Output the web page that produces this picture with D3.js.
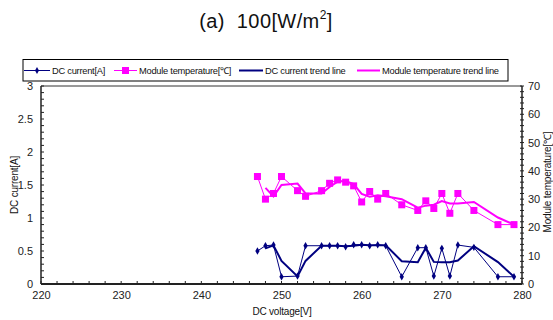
<!DOCTYPE html>
<html>
<head>
<meta charset="utf-8">
<script src="https://cdn.jsdelivr.net/npm/d3@7"></script>
<style>
  body { margin: 0; background: #fff; }
  svg { display: block; font-family: 'Liberation Sans', Arial, sans-serif; }
</style>
</head>
<body>
<div class="chart"></div>
<script>
const voltage = [247, 248, 249, 250, 252, 253, 255, 256, 257, 258, 259, 260, 261, 262, 263, 265, 267, 268, 269, 270, 271, 272, 274, 277, 279]
const current = [0.50, 0.58, 0.59, 0.11, 0.12, 0.58, 0.58, 0.58, 0.58, 0.565, 0.595, 0.595, 0.58, 0.595, 0.58, 0.11, 0.55, 0.55, 0.12, 0.54, 0.12, 0.59, 0.555, 0.11, 0.11]
const temperature = [38, 30, 32, 38, 33, 31, 33, 35.6, 36.8, 36, 34.7, 29, 32.7, 30, 32, 28, 26, 29.4, 26.7, 32, 25, 32, 26, 21, 21]
const xTicks = [220, 230, 240, 250, 260, 270, 280]
const leftTicks = [0, 0.5, 1, 1.5, 2, 2.5, 3]
const rightTicks = [0, 10, 20, 30, 40, 50, 60, 70]
const legendLabels = ['DC current[A]', 'Module temperature[℃]', 'DC current trend line', 'Module temperature trend line']

const NAVY = '#000080'
const MAGENTA = '#ff00ff'
const width = 553
const height = 320
const plot = { left: 41, right: 522, top: 86, bottom: 284 }

const svg = d3.select('.chart').append('svg')
  .attr('width', width)
  .attr('height', height)

const x = d3.scaleLinear().domain([220, 280]).range([plot.left, plot.right])
const yL = d3.scaleLinear().domain([0, 3]).range([plot.bottom, plot.top])
const yR = d3.scaleLinear().domain([0, 70]).range([plot.bottom, plot.top])

// title
const title = svg.append('text')
  .attr('x', 266)
  .attr('y', 28)
  .attr('text-anchor', 'middle')
  .attr('font-size', 20)
  .attr('letter-spacing', 0.4)
  .attr('fill', '#111')
  .style('white-space', 'pre')
title.append('tspan').text('(a)  100[W/m')
title.append('tspan').attr('font-size', 12).attr('dy', -9).text('2')
title.append('tspan').attr('dy', 9).text(']')

// legend box
const legend = svg.append('g')
legend.append('rect')
  .attr('x', 23).attr('y', 59.5).attr('width', 485).attr('height', 21.5)
  .attr('fill', '#fff').attr('stroke', '#000').attr('stroke-width', 1)

const legendItems = [
  { x: 24, len: 26, color: NAVY, w: 1, marker: 'diamond' },
  { x: 114, len: 23, color: MAGENTA, w: 1, marker: 'square' },
  { x: 239, len: 24, color: NAVY, w: 2, marker: null },
  { x: 357, len: 23, color: MAGENTA, w: 2, marker: null },
]
legendItems.forEach((d, i) => {
  const ly = 70.5
  legend.append('line')
    .attr('x1', d.x).attr('x2', d.x + d.len).attr('y1', ly).attr('y2', ly)
    .attr('stroke', d.color).attr('stroke-width', d.w)
  if (d.marker === 'diamond') {
    legend.append('path')
      .attr('transform', `translate(${d.x + d.len / 2},${ly})`)
      .attr('d', d3.symbol(d3.symbolDiamond, 14)()).attr('fill', d.color)
  } else if (d.marker === 'square') {
    legend.append('rect')
      .attr('x', d.x + d.len / 2 - 3.5).attr('y', ly - 3.5).attr('width', 7).attr('height', 7)
      .attr('fill', d.color)
  }
  legend.append('text')
    .attr('x', d.x + d.len + 2).attr('y', ly + 3.3)
    .attr('font-size', 9.3).attr('letter-spacing', -0.25).attr('fill', '#111')
    .text(legendLabels[i])
})

// frame
svg.append('line')
  .attr('x1', plot.left).attr('x2', plot.right).attr('y1', plot.top).attr('y2', plot.top)
  .attr('stroke', '#333').attr('stroke-width', 1)

// minor ticks
const minor = svg.append('g').attr('stroke', '#222').attr('stroke-width', 1)
d3.range(0, 3.0001, 0.1).forEach(v => {
  minor.append('line').attr('x1', plot.left).attr('x2', plot.left + 3)
    .attr('y1', yL(v)).attr('y2', yL(v))
})
d3.range(0, 70.001, 2).forEach(v => {
  minor.append('line').attr('x1', plot.right - 2).attr('x2', plot.right + 2)
    .attr('y1', yR(v)).attr('y2', yR(v))
})
d3.range(220, 280.001, 2).forEach(v => {
  minor.append('line').attr('x1', x(v)).attr('x2', x(v))
    .attr('y1', plot.bottom).attr('y2', plot.bottom - 3)
})

// axis lines
svg.append('line')
  .attr('x1', plot.left).attr('x2', plot.left).attr('y1', plot.top).attr('y2', plot.bottom)
  .attr('stroke', '#222').attr('stroke-width', 1.5)
svg.append('line')
  .attr('x1', plot.right).attr('x2', plot.right).attr('y1', plot.top).attr('y2', plot.bottom)
  .attr('stroke', '#222').attr('stroke-width', 1.5)
svg.append('line')
  .attr('x1', plot.left).attr('x2', plot.right).attr('y1', plot.bottom).attr('y2', plot.bottom)
  .attr('stroke', '#222').attr('stroke-width', 2)

// tick labels
const xAxis = svg.append('g')
  .attr('transform', `translate(0,${plot.bottom})`)
  .call(d3.axisBottom(x).tickValues(xTicks).tickSize(0).tickPadding(7))
const lAxis = svg.append('g')
  .attr('transform', `translate(${plot.left},0)`)
  .call(d3.axisLeft(yL).tickValues(leftTicks).tickSize(0).tickPadding(8).tickFormat(d => d))
const rAxis = svg.append('g')
  .attr('transform', `translate(${plot.right},0)`)
  .call(d3.axisRight(yR).tickValues(rightTicks).tickSize(0).tickPadding(6))
;[xAxis, lAxis, rAxis].forEach(a => {
  a.select('.domain').remove()
  a.selectAll('text').attr('font-size', 11).attr('fill', '#222')
    .attr('font-family', "'Liberation Sans', Arial, sans-serif")
})

// axis titles
svg.append('text')
  .attr('x', 282).attr('y', 315)
  .attr('text-anchor', 'middle').attr('font-size', 10).attr('fill', '#111')
  .attr('letter-spacing', -0.2)
  .text('DC voltage[V]')
svg.append('text')
  .attr('transform', 'translate(18,185) rotate(-90)')
  .attr('text-anchor', 'middle').attr('font-size', 10).attr('fill', '#111')
  .attr('letter-spacing', -0.2)
  .text('DC current[A]')
svg.append('text')
  .attr('transform', 'translate(551,182) rotate(-90)')
  .attr('text-anchor', 'middle').attr('font-size', 10).attr('fill', '#111')
  .attr('letter-spacing', -0.2)
  .text('Module temperature[℃]')

// data
const currentData = voltage.map((v, i) => ({ v, y: current[i] }))
const tempData = voltage.map((v, i) => ({ v, y: temperature[i] }))
// 2-period moving average trend lines
const movingAvg = arr => d3.pairs(arr).map(([a, b]) => ({ v: b.v, y: (a.y + b.y) / 2 }))

const lineL = d3.line().x(d => x(d.v)).y(d => yL(d.y))
const lineR = d3.line().x(d => x(d.v)).y(d => yR(d.y))

svg.append('path').datum(tempData)
  .attr('d', lineR).attr('fill', 'none').attr('stroke', MAGENTA).attr('stroke-width', 1)
svg.append('path').datum(movingAvg(tempData))
  .attr('d', lineR).attr('fill', 'none').attr('stroke', MAGENTA).attr('stroke-width', 2)
svg.selectAll('.temp-marker').data(tempData).enter().append('rect')
  .attr('class', 'temp-marker')
  .attr('x', d => x(d.v) - 3.5).attr('y', d => yR(d.y) - 3.5)
  .attr('width', 7).attr('height', 7).attr('fill', MAGENTA)

svg.append('path').datum(currentData)
  .attr('d', lineL).attr('fill', 'none').attr('stroke', NAVY).attr('stroke-width', 1)
svg.append('path').datum(movingAvg(currentData))
  .attr('d', lineL).attr('fill', 'none').attr('stroke', NAVY).attr('stroke-width', 2)
svg.selectAll('.cur-marker').data(currentData).enter().append('path')
  .attr('class', 'cur-marker')
  .attr('transform', d => `translate(${x(d.v)},${yL(d.y)})`)
  .attr('d', d3.symbol(d3.symbolDiamond, 16)()).attr('fill', NAVY)
</script>
</body>
</html>
